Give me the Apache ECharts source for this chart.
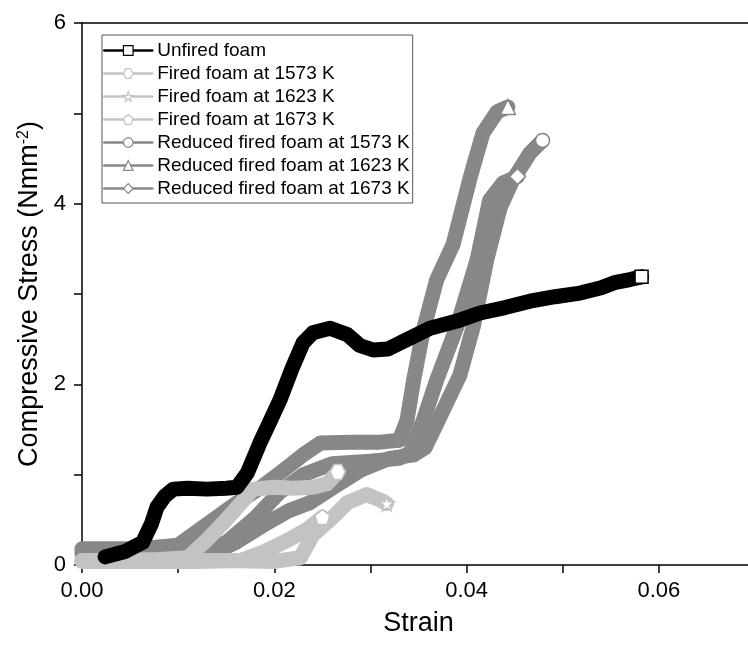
<!DOCTYPE html>
<html>
<head>
<meta charset="utf-8">
<script src="https://cdn.jsdelivr.net/npm/echarts@6.0.0/dist/echarts.min.js"></script>
<style>
  html, body { margin: 0; padding: 0; overflow: hidden; background: #fff; }
  #chart { width: 760px; height: 650px; }
</style>
</head>
<body>
<div id="chart"></div>
<script>
// Compressive stress-strain curves of unfired, fired and reduced fired foams.

const seriesNames = [
  'Unfired foam',
  'Fired foam at 1573 K',
  'Fired foam at 1623 K',
  'Fired foam at 1673 K',
  'Reduced fired foam at 1573 K',
  'Reduced fired foam at 1623 K',
  'Reduced fired foam at 1673 K'
];

// Unfired foam
const unfiredStrain = [0.0024, 0.0045, 0.0063, 0.0072, 0.0078, 0.0086, 0.0095, 0.0110, 0.0130, 0.0150,
  0.0161, 0.0172, 0.0185, 0.0196, 0.0206, 0.0219, 0.0230, 0.0240, 0.0258, 0.0276,
  0.0289, 0.0303, 0.0318, 0.0335, 0.0362, 0.0390, 0.0414, 0.0440, 0.0466, 0.0492,
  0.0518, 0.0540, 0.0555, 0.0570, 0.0582];
const unfiredStress = [0.09, 0.15, 0.25, 0.45, 0.64, 0.76, 0.84, 0.85, 0.84, 0.85,
  0.86, 1.02, 1.35, 1.60, 1.83, 2.19, 2.46, 2.57, 2.62, 2.55,
  2.43, 2.38, 2.39, 2.48, 2.62, 2.70, 2.79, 2.85, 2.92, 2.97,
  3.01, 3.07, 3.13, 3.16, 3.19];

// Fired foams
const fired1573Strain = [0, 0.004, 0.008, 0.011, 0.013, 0.015, 0.0165, 0.0178, 0.020, 0.022, 0.024, 0.0255, 0.0266];
const fired1573Stress = [0.05, 0.05, 0.06, 0.08, 0.28, 0.50, 0.68, 0.84, 0.86, 0.85, 0.86, 0.90, 1.03];

const fired1623Strain = [0, 0.008, 0.015, 0.020, 0.0227, 0.024, 0.0261, 0.0276, 0.0296, 0.031, 0.0317];
const fired1623Stress = [0.05, 0.05, 0.05, 0.04, 0.08, 0.33, 0.53, 0.69, 0.78, 0.72, 0.68];

const fired1673Strain = [0, 0.006, 0.012, 0.0165, 0.019, 0.0215, 0.0235, 0.025];
const fired1673Stress = [0.04, 0.04, 0.04, 0.05, 0.15, 0.28, 0.40, 0.53];

// Reduced fired foams
const reduced1573Strain = [0, 0.008, 0.013, 0.016, 0.019, 0.0215, 0.0237, 0.026, 0.029, 0.032,
  0.0345, 0.0357, 0.0375, 0.0393, 0.0407, 0.0421, 0.0435, 0.0448, 0.0466, 0.0479];
const reduced1573Stress = [0.12, 0.12, 0.10, 0.25, 0.45, 0.60, 0.69, 0.85, 1.05, 1.18,
  1.22, 1.30, 1.70, 2.10, 2.64, 3.38, 3.96, 4.26, 4.56, 4.70];

const reduced1623Strain = [0, 0.006, 0.010, 0.013, 0.016, 0.0185, 0.0206, 0.023, 0.0248, 0.028,
  0.031, 0.0330, 0.0338, 0.0345, 0.0355, 0.0369, 0.0386, 0.0404, 0.0417, 0.0432, 0.0443];
const reduced1623Stress = [0.18, 0.18, 0.22, 0.45, 0.68, 0.85, 1.02, 1.22, 1.35, 1.36,
  1.36, 1.38, 1.60, 2.05, 2.60, 3.16, 3.55, 4.30, 4.78, 5.02, 5.07];

const reduced1673Strain = [0, 0.008, 0.012, 0.015, 0.018, 0.0205, 0.023, 0.026, 0.030, 0.033,
  0.0341, 0.0355, 0.0369, 0.039, 0.0411, 0.0424, 0.0438, 0.0453];
const reduced1673Stress = [0.15, 0.15, 0.12, 0.25, 0.52, 0.80, 1.00, 1.12, 1.15, 1.18,
  1.24, 1.60, 2.05, 2.64, 3.38, 4.04, 4.23, 4.30];

// Axis ticks
const strainTicks = [0, 0.01, 0.02, 0.03, 0.04, 0.05, 0.06, 0.07];
const stressTicks = [0, 1, 2, 3, 4, 5, 6];

const FONT = 'Liberation Sans, Arial, Helvetica, sans-serif';
const BLACK = '#000000';
const LIGHT = '#c3c3c3';
const DARK = '#878787';

const SYM_HEXAGON = 'path://M0,5 L2.5,0.67 L7.5,0.67 L10,5 L7.5,9.33 L2.5,9.33 Z';
const SYM_PENTAGON = 'path://M5,0 L10,3.8 L8.1,10 L1.9,10 L0,3.8 Z';
const SYM_STAR = 'path://M50,0 L61,35 L98,35 L68,57 L79,91 L50,70 L21,91 L32,57 L2,35 L39,35 Z';

function pairs(xs, ys) {
  return xs.map((x, i) => [x, ys[i]]);
}

function curve(name, xs, ys, color, symbol, endSize, z) {
  const n = xs.length;
  return {
    name: name,
    type: 'line',
    data: pairs(xs, ys),
    z: z,
    symbol: symbol,
    showAllSymbol: true,
    symbolSize: (v, p) => (p.dataIndex === n - 1 ? endSize : 0),
    lineStyle: { color: color, width: 15, cap: 'round', join: 'round' },
    itemStyle: { color: '#ffffff', borderColor: color, borderWidth: 1.5 },
    emphasis: { disabled: true },
    silent: true,
    animation: false
  };
}

const series = [
  curve(seriesNames[4], reduced1573Strain, reduced1573Stress, DARK, 'circle', 14, 2),
  curve(seriesNames[6], reduced1673Strain, reduced1673Stress, DARK, 'diamond', 16, 2),
  curve(seriesNames[5], reduced1623Strain, reduced1623Stress, DARK, 'triangle', 15, 2),
  curve(seriesNames[1], fired1573Strain, fired1573Stress, LIGHT, SYM_HEXAGON, 15, 3),
  curve(seriesNames[2], fired1623Strain, fired1623Stress, LIGHT, SYM_STAR, 15, 3),
  curve(seriesNames[3], fired1673Strain, fired1673Stress, LIGHT, SYM_PENTAGON, 15, 3),
  curve(seriesNames[0], unfiredStrain, unfiredStress, BLACK, 'rect', 13, 4)
];

const chart = echarts.init(document.getElementById('chart'), null, { renderer: 'canvas' });

chart.setOption({
  animation: false,
  backgroundColor: '#ffffff',
  textStyle: { fontFamily: FONT },
  grid: { left: 82, right: 5, top: 23, bottom: 85, containLabel: false },
  legend: {
    data: seriesNames,
    orient: 'vertical',
    left: 102,
    top: 35,
    padding: [6, 3, 5, 1],
    itemGap: 4,
    itemWidth: 48,
    itemHeight: 12,
    backgroundColor: '#ffffff',
    borderColor: '#555555',
    borderWidth: 1,
    borderRadius: 0,
    lineStyle: { width: 2.5 },
    itemStyle: { borderWidth: 1.2 },
    textStyle: { fontFamily: FONT, fontSize: 19, color: '#000', lineHeight: 19, padding: [0, 0, 0, 0] },
    selectedMode: false
  },
  xAxis: [
    {
      type: 'value',
      min: strainTicks[0],
      max: strainTicks[strainTicks.length - 1],
      interval: 0.01,
      name: 'Strain',
      nameLocation: 'middle',
      nameGap: 45,
      nameTextStyle: { fontFamily: FONT, fontSize: 27, color: '#000' },
      axisLine: { show: true, onZero: false, lineStyle: { color: '#000', width: 1.5 } },
      axisTick: { show: true, inside: false, length: 8, lineStyle: { color: '#000', width: 1.5 } },
      axisLabel: {
        show: true,
        margin: 15,
        fontFamily: FONT,
        fontSize: 22,
        color: '#000',
        showMaxLabel: false,
        formatter: v => (Math.round(v * 100) % 2 === 0 ? v.toFixed(2) : '')
      },
      splitLine: { show: false }
    },
    {
      type: 'value',
      position: 'top',
      min: strainTicks[0],
      max: strainTicks[strainTicks.length - 1],
      axisLine: { show: true, onZero: false, lineStyle: { color: '#000', width: 1.5 } },
      axisTick: { show: false },
      axisLabel: { show: false },
      splitLine: { show: false }
    }
  ],
  yAxis: {
    type: 'value',
    min: stressTicks[0],
    max: stressTicks[stressTicks.length - 1],
    interval: 1,
    name: 'Compressive Stress (Nmm{s|-2})',
    nameLocation: 'middle',
    nameGap: 30,
    nameTextStyle: {
      fontFamily: FONT,
      fontSize: 27,
      color: '#000',
      rich: {
        s: { fontFamily: FONT, fontSize: 16, color: '#000', verticalAlign: 'top', padding: [0, 0, 11, 0] }
      }
    },
    axisLine: { show: true, onZero: false, lineStyle: { color: '#000', width: 1.5 } },
    axisTick: { show: true, inside: false, length: 8, lineStyle: { color: '#000', width: 1.5 } },
    axisLabel: {
      show: true,
      margin: 16,
      fontFamily: FONT,
      fontSize: 22,
      color: '#000',
      formatter: v => (Math.round(v) % 2 === 0 ? String(Math.round(v)) : '')
    },
    splitLine: { show: false }
  },
  series: series
});
</script>
</body>
</html>
